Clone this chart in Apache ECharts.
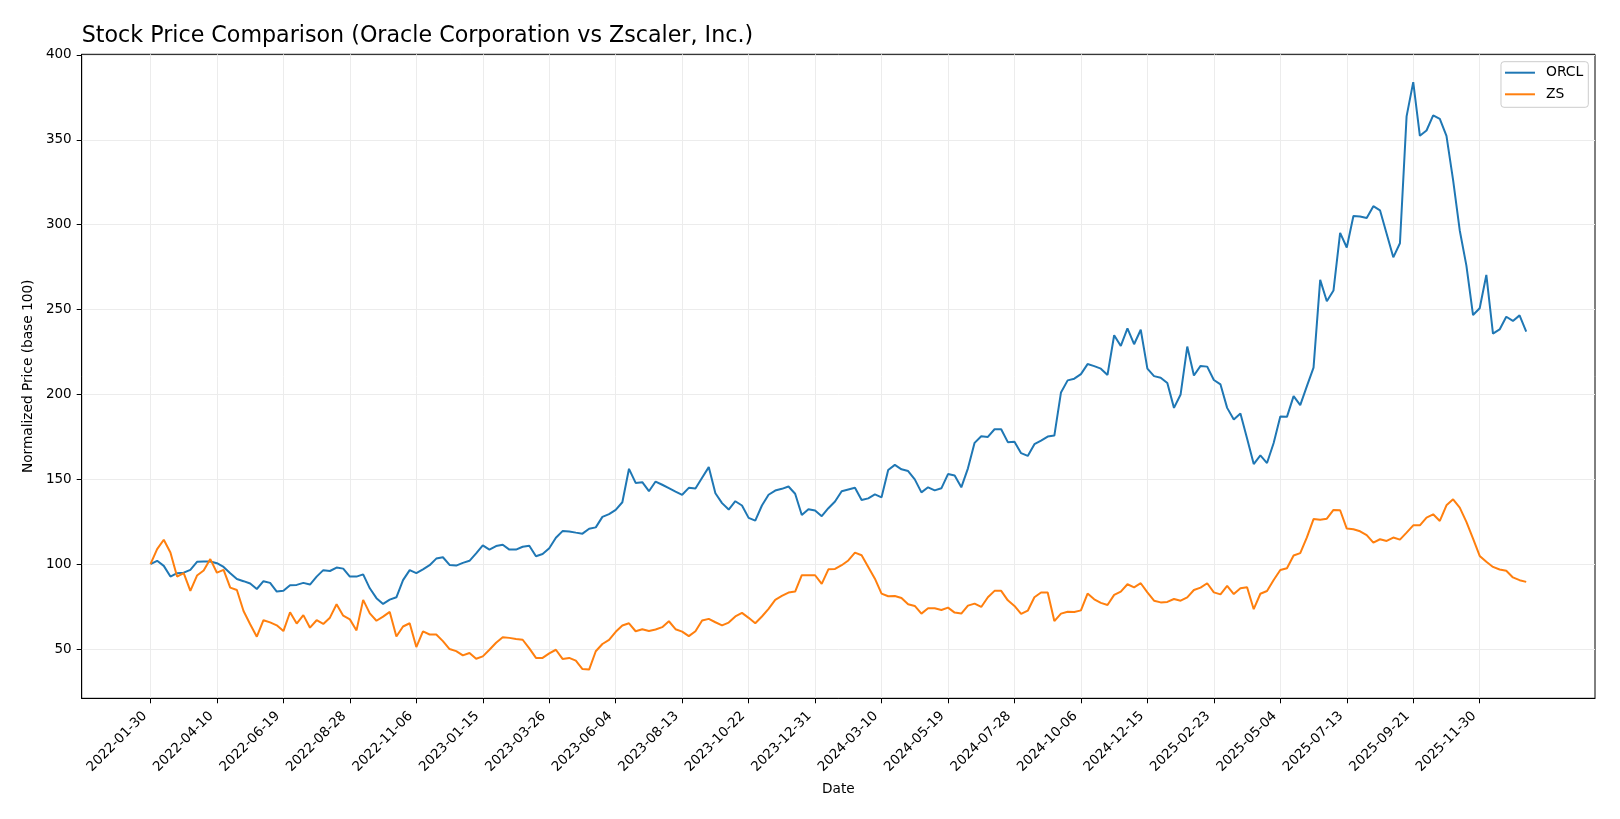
<!DOCTYPE html>
<html>
<head>
<meta charset="utf-8">
<script src="https://cdn.jsdelivr.net/npm/echarts@6/dist/echarts.min.js"></script>
<style>
html,body{margin:0;padding:0;background:#fff;}
#chart{width:1620px;height:819px;}
</style>
</head>
<body>
<div id="chart"></div>
<script>
// Weekly closes normalized to 100, first week 2022-01-30 (week index 0)
const tickLabels = ['2022-01-30','2022-04-10','2022-06-19','2022-08-28','2022-11-06','2023-01-15','2023-03-26','2023-06-04','2023-08-13','2023-10-22','2023-12-31','2024-03-10','2024-05-19','2024-07-28','2024-10-06','2024-12-15','2025-02-23','2025-05-04','2025-07-13','2025-09-21','2025-11-30'];
const tickWeeks = [0,10,20,30,40,50,60,70,80,90,100,110,120,130,140,150,160,170,180,190,200];
const yTicks = [50,100,150,200,250,300,350,400];

const orcl = [
100,102,99,92.7,94.7,95,96.7,101.4,101.6,101.6,
100.6,98.4,94.7,91.3,90,88.6,85.4,90,89,83.9,
84.3,87.6,87.8,89,88,92.7,96.5,96,98,97.4,
92.7,92.7,94,85.8,80,76.6,79.1,80.5,90.6,96.5,
94.7,97,99.4,103.3,104.1,99.6,99.2,100.8,102,106.4,
111.1,108.6,110.7,111.5,108.6,108.6,110.3,110.9,104.7,106,
109.4,115.6,119.5,119.3,118.6,118,120.9,121.7,127.9,129.5,
132,136.5,156.2,147.9,148.3,143,148.7,146.8,144.8,142.8,
140.9,145,144.6,150.9,157.2,141.8,136,132.2,137.1,134.6,
127.3,125.7,134.6,140.9,143.4,144.4,145.8,141.5,129,132.4,
131.6,128.3,133,136.9,143,144,145,137.8,138.8,141.1,
139.4,155.5,158.5,155.9,154.9,150,142.3,145.3,143.5,144.7,
153.1,152.2,145.3,156.5,171.5,175.4,175,179.5,179.5,171.9,
172.2,165.4,163.8,170.7,172.8,175.2,175.8,201.2,208.3,209.3,
212,217.9,216.7,215.2,211.5,234.9,228.6,238.9,229.6,238.1,
215.2,210.8,209.9,206.7,192.1,200,228.2,211.2,216.8,216.4,
208.5,205.9,192.1,185.2,188.8,174,159,164.1,159.6,171.4,
187,186.8,199,193.7,204.9,215.8,267.5,254.9,261.2,295.2,
286.6,305.1,304.9,304,310.9,308.5,294.7,280.8,289.1,363.8,
384,352.4,355.5,364.4,362.3,352.4,326.3,296.6,275.9,246.8,
250.8,270.4,235.8,238.3,245.8,243.3,246.6,237
];

const zs = [
100,108.9,114.4,106.9,92.7,94.7,84.3,93.3,96.3,103,
95,96.7,86.2,84.8,72.4,64.6,57.3,67,65.7,64,
60.6,71.7,65,70,62.6,67,64.8,68.5,76.4,69.7,
67.5,61,79,71,66.7,69.1,71.9,57.4,63.3,65.2,
51.2,60.4,58.6,58.6,54.7,50,48.8,46.3,47.7,44.3,
45.7,49.6,53.7,57,56.6,56,55.5,50.4,44.8,44.8,
47.5,49.6,44.2,44.8,43.2,38.2,37.9,48.7,53,55.4,
60.2,63.9,65.2,60.5,61.7,60.7,61.5,62.9,66.4,61.7,
60.3,57.6,60.5,66.8,67.8,65.8,64,65.6,69.2,71.3,
68.4,65.2,69.2,73.7,79,81.3,83.3,83.9,93.5,93.5,
93.5,88.4,97,97.2,99.4,102.2,106.8,105.3,98.4,91.5,
82.7,81.1,81.3,80.1,76.4,75.4,70.9,74,74,73,
74.4,71.5,70.9,75.6,76.8,74.8,80.5,84.3,84.3,78.7,
75.4,70.7,72.6,80.5,83.3,83.3,66.5,70.9,72,71.9,
72.8,82.7,79.3,77.2,76,81.9,83.8,88.2,86.4,88.8,
83.4,78.5,77.5,77.8,79.5,78.5,80.5,84.8,86.2,88.8,
83.4,82.2,87.2,82.4,85.8,86.4,73.5,82.6,84.2,90.7,
96.6,97.6,105.1,106.5,115.8,126.6,126.2,126.8,132,131.8,
121,120.6,119.4,117.1,112.7,114.7,113.7,115.7,114.5,118.6,
122.9,122.9,127.5,129.4,125.5,134.7,138.2,133.3,124.9,115.1,
104.9,101.4,98.4,96.9,96.1,92.2,90.6,89.6
];

const FONT = 'DejaVu Sans';
const lastIdx = orcl.length - 1;
const pad = lastIdx * 0.05;

const chart = echarts.init(document.getElementById('chart'), null, {renderer: 'canvas'});
chart.setOption({
  animation: false,
  backgroundColor: '#ffffff',
  textStyle: {fontFamily: FONT},
  title: {
    text: 'Stock Price Comparison (Oracle Corporation vs Zscaler, Inc.)',
    left: 81.7,
    top: 25,
    padding: 0,
    textStyle: {fontFamily: FONT, fontSize: 22.2, fontWeight: 'normal', color: '#000'}
  },
  legend: {
    orient: 'vertical',
    right: 31.7,
    top: 61.7,
    data: ['ORCL', 'ZS'],
    icon: 'rect',
    itemWidth: 30,
    itemHeight: 2,
    itemGap: 7.6,
    padding: [4, 5, 6, 4],
    backgroundColor: 'rgba(255,255,255,0.8)',
    borderColor: '#cccccc',
    borderWidth: 1,
    borderRadius: 3,
    textStyle: {fontFamily: FONT, fontSize: 13.9, color: '#000', padding: [0, 0, 0, 6]}
  },
  grid: {
    left: 81.7, right: 25, top: 54.3, bottom: 120.7,
    show: true, borderColor: '#000', borderWidth: 1, backgroundColor: 'transparent'
  },
  xAxis: {
    type: 'value',
    min: -pad,
    max: lastIdx + pad,
    name: 'Date',
    nameLocation: 'middle',
    nameGap: 84,
    nameTextStyle: {fontFamily: FONT, fontSize: 13.7, color: '#000'},
    axisLine: {show: true, onZero: false, lineStyle: {color: '#000', width: 1}},
    axisTick: {show: true, customValues: tickWeeks, length: 5, lineStyle: {color: '#000', width: 1}},
    axisLabel: {
      customValues: tickWeeks,
      rotate: 45,
      margin: 10,
      padding: [0, 8, 0, 0],
      fontFamily: FONT, fontSize: 13.5, color: '#000',
      formatter: function (v) { return tickLabels[tickWeeks.indexOf(Math.round(v))] || ''; }
    },
    splitLine: {show: true, lineStyle: {color: '#ececec', width: 1}}
  },
  yAxis: {
    type: 'value',
    min: 21,
    max: 400.4,
    name: 'Normalized Price (base 100)',
    nameLocation: 'middle',
    nameGap: 41,
    nameTextStyle: {fontFamily: FONT, fontSize: 13.7, color: '#000'},
    axisLine: {show: true, onZero: false, lineStyle: {color: '#000', width: 1}},
    axisTick: {show: true, customValues: yTicks, length: 5, lineStyle: {color: '#000', width: 1}},
    axisLabel: {customValues: yTicks, margin: 10, fontFamily: FONT, fontSize: 13.5, color: '#000'},
    splitLine: {show: true, lineStyle: {color: '#ececec', width: 1}}
  },
  series: [
    {
      name: 'ORCL', type: 'line', symbol: 'none', showSymbol: false,
      data: orcl.map((v, i) => [i, v]),
      lineStyle: {color: '#1f77b4', width: 2},
      itemStyle: {color: '#1f77b4'}
    },
    {
      name: 'ZS', type: 'line', symbol: 'none', showSymbol: false,
      data: zs.map((v, i) => [i, v]),
      lineStyle: {color: '#ff7f0e', width: 2},
      itemStyle: {color: '#ff7f0e'}
    }
  ]
});
</script>
</body>
</html>
